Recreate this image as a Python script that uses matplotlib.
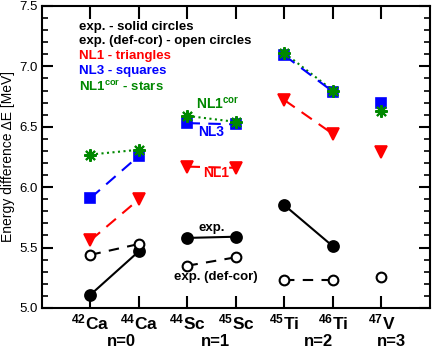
import matplotlib
matplotlib.use("Agg")
import matplotlib.pyplot as plt
from matplotlib.ticker import MultipleLocator

plt.rcParams['font.family'] = ['Liberation Sans', 'DejaVu Sans']
plt.rcParams['mathtext.fontset'] = 'custom'
plt.rcParams['mathtext.rm'] = 'Liberation Sans'
plt.rcParams['mathtext.bf'] = 'Liberation Sans:bold'
plt.rcParams['mathtext.it'] = 'Liberation Sans:italic'

nuclei = ["42Ca", "44Ca", "44Sc", "45Sc", "45Ti", "46Ti", "47V"]
mass = ["42", "44", "44", "45", "45", "46", "47"]
elem = ["Ca", "Ca", "Sc", "Sc", "Ti", "Ti", "V"]
n_labels = ["n=0", "n=1", "n=2", "n=3"]
n_pos = [1.63, 3.57, 5.69, 7.2]

exp_solid = [5.11, 5.47, 5.58, 5.59, 5.85, 5.51, None]
exp_open = [5.44, 5.53, 5.35, 5.42, 5.23, 5.23, 5.26]
nl1 = [5.56, 5.90, 6.17, 6.16, 6.72, 6.44, 6.29]
nl3 = [5.91, 6.26, 6.53, 6.52, 7.09, 6.79, 6.70]
nl1cor = [6.27, 6.31, 6.59, 6.54, 7.11, 6.80, 6.63]

pairs = [(0, 1), (2, 3), (4, 5), (6,)]
xs = list(range(1, 8))

fig = plt.figure(figsize=(4.36, 3.49), dpi=100)
ax = fig.add_axes([0.0963, 0.1175, 0.8899, 0.8655])

def draw(vals, color, ls, marker, ms, mfc, mew=1.2, dashes=None):
    for p in pairs:
        px = [xs[i] for i in p if vals[i] is not None]
        py = [vals[i] for i in p if vals[i] is not None]
        if not px:
            continue
        line, = ax.plot(px, py, color=color, ls=ls, lw=1.5, marker=marker, ms=ms,
                        mfc=mfc, mec=color, mew=mew, zorder=3)
        if dashes is not None:
            line.set_dashes(dashes)

green = '#008800'
draw(nl1cor, green, ':', '*', 0, green)
for i, v in enumerate(nl1cor):
    ax.plot(xs[i], v, marker=(8, 2, 0), ms=9, color=green, mew=1.5, ls='none', zorder=5)
draw(nl3, '#0000ff', '--', 's', 7, '#0000ff', dashes=(6, 4))
draw(nl1, '#ff0000', '--', 'v', 9, '#ff0000', dashes=(6, 4))
draw(exp_solid, 'black', '-', 'o', 8, 'black')
draw(exp_open, 'black', '--', 'o', 7, 'white', mew=1.5, dashes=(5, 4))

ax.set_xlim(0, 8)
ax.set_ylim(5.0, 7.5)
ax.set_xticks(xs)
ax.set_xticklabels([r"$^{\mathbf{%s}}$%s" % (m, e) for m, e in zip(mass, elem)],
                   fontsize=12.5, fontweight='bold')
ax.yaxis.set_major_locator(MultipleLocator(0.5))
ax.yaxis.set_minor_locator(MultipleLocator(0.1))
ax.tick_params(axis='x', which='major', direction='in', length=9, width=1.5,
               top=True, bottom=True, pad=3)
ax.tick_params(axis='y', which='major', direction='in', length=8, width=1.5,
               left=True, right=True, labelsize=9.5, pad=3)
ax.tick_params(axis='y', which='minor', direction='in', length=4, width=1.2,
               left=True, right=True)
for s in ax.spines.values():
    s.set_linewidth(1.5)
ax.set_ylabel("Energy difference \u0394E [MeV]", fontsize=10, labelpad=3)

for lab, xp in zip(n_labels, n_pos):
    ax.text(xp, -0.11, lab, transform=ax.get_xaxis_transform(), ha='center',
            va='center', fontsize=12, fontweight='bold')

legend_items = [
    ("exp. - solid circles", 'black'),
    ("exp. (def-cor) - open circles", 'black'),
    ("NL1 - triangles", '#ff0000'),
    ("NL3 - squares", '#0000ff'),
    (r"NL1$^{\mathbf{cor}}$ - stars", green),
]
ly = [0.930, 0.884, 0.834, 0.785, 0.732]
for (t, c), yy in zip(legend_items, ly):
    ax.text(0.095, yy, t, transform=ax.transAxes, color=c, fontsize=9.5,
            fontweight='bold', va='center', ha='left')

ax.text(3.63, 6.69, r"NL1$^{\mathbf{cor}}$", color=green, fontsize=10,
        fontweight='bold', ha='center', va='center')
ax.text(3.48, 6.46, "NL3", color='#0000ff', fontsize=10, fontweight='bold',
        ha='center', va='center')
ax.text(3.59, 6.12, "NL1", color='#ff0000', fontsize=10, fontweight='bold',
        ha='center', va='center')
ax.text(3.5, 5.66, "exp.", color='black', fontsize=9.5, fontweight='bold',
        ha='center', va='center')
ax.text(3.58, 5.256, "exp. (def-cor)", color='black', fontsize=9.5,
        fontweight='bold', ha='center', va='center')

fig.savefig("out.png", dpi=100)
